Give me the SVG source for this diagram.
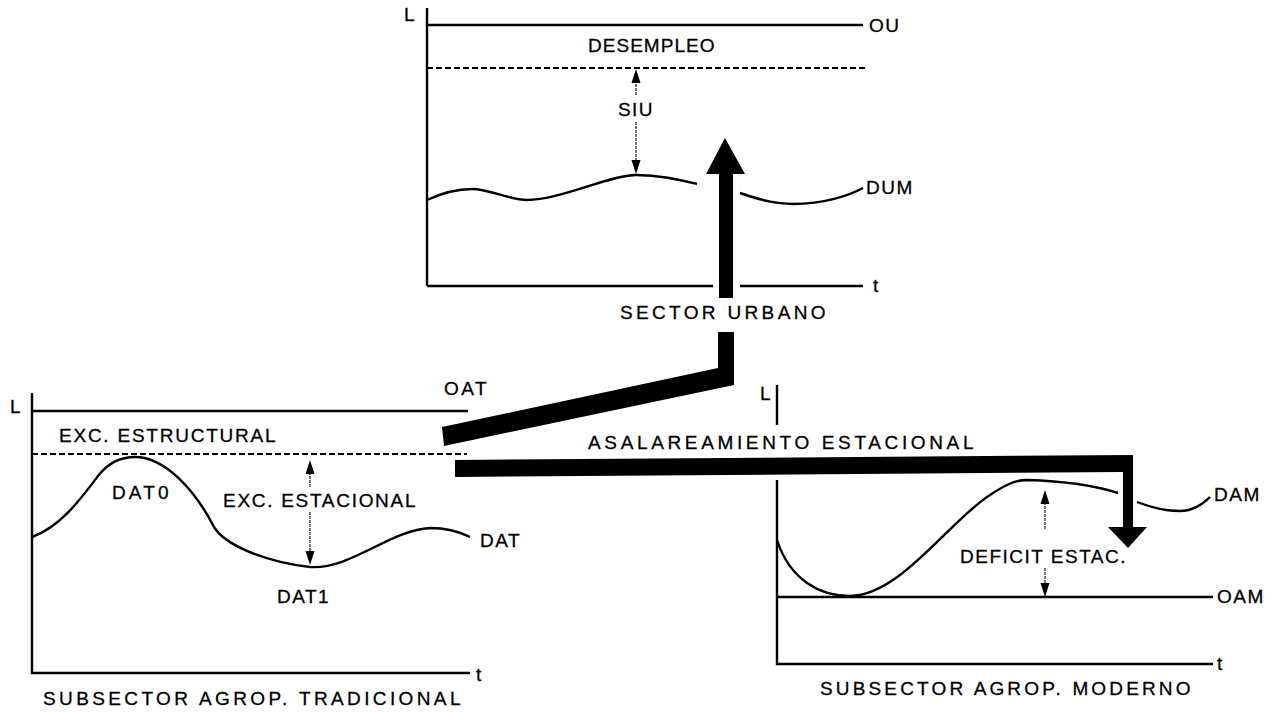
<svg xmlns="http://www.w3.org/2000/svg" width="1271" height="712" viewBox="0 0 1271 712">
<defs>
<style>
.ax{fill:none;stroke:#000;stroke-width:2.4}
.cv{fill:none;stroke:#000;stroke-width:2.4}
.ds{fill:none;stroke:#000;stroke-width:1.9;stroke-dasharray:6 3}
.th{fill:none;stroke:#000;stroke-width:1.1;stroke-dasharray:3 1}
.tx{font-family:"Liberation Sans",Arial,sans-serif;font-size:19px;fill:#000;letter-spacing:1.5px;stroke:#000;stroke-width:0.3}
.big{fill:#000;stroke:none}
.hd{fill:#000}
</style>
</defs>
<rect width="1271" height="712" fill="#fff"/>

<g id="sector-urbano">
<text class="tx" x="404" y="21" letter-spacing="0">L</text>
<path class="ax" d="M427,8 V286 M427,286 H713 M740,286 H863"/>
<path class="ax" d="M427,25 H863"/>
<text class="tx" x="869" y="32">OU</text>
<text class="tx" x="588" y="52" textLength="128" lengthAdjust="spacing">DESEMPLEO</text>
<path class="ds" d="M427,68 H865"/>
<path class="cv" d="M427,200 C440,194 455,189 472,189 C490,189 510,200 527,200 C560,200 610,175 636,175 C660,175 680,180 697,184 M740,193 C760,200 775,204 793,204 C825,204 850,195 863,188"/>
<text class="tx" x="866" y="194">DUM</text>
<text class="tx" x="873" y="292" letter-spacing="0">t</text>
<text class="tx" x="620" y="319" textLength="207" lengthAdjust="spacing">SECTOR URBANO</text>
</g>

<g id="siu">
<path class="th" d="M636,80 V96 M636,122 V162"/>
<polygon class="hd" points="636,69 640.5,83 631.5,83"/>
<polygon class="hd" points="636,174 640.5,160 631.5,160"/>
<text class="tx" x="636" y="116" text-anchor="middle" letter-spacing="0.5">SIU</text>
</g>

<g id="subsector-tradicional">
<text class="tx" x="10" y="413" letter-spacing="0">L</text>
<path class="ax" d="M32,393 V673 H470"/>
<path class="ax" d="M32,411 H468"/>
<text class="tx" x="444" y="395" textLength="44" lengthAdjust="spacing">OAT</text>
<text class="tx" x="59" y="442" textLength="218" lengthAdjust="spacing">EXC. ESTRUCTURAL</text>
<path class="ds" d="M32,454 H467"/>
<path class="cv" d="M32,537 C60,527 80,500 98,476 C108,463 120,457 135,457 C165,457 195,490 214,527 C225,545 265,562 310,567 C350,570 390,530 430,528 C450,528 462,533 470,537"/>
<text class="tx" x="112" y="499" textLength="58" lengthAdjust="spacing">DAT0</text>
<text class="tx" x="223" y="507" textLength="194" lengthAdjust="spacing">EXC. ESTACIONAL</text>
<text class="tx" x="277" y="603" textLength="53" lengthAdjust="spacing">DAT1</text>
<text class="tx" x="480" y="547">DAT</text>
<text class="tx" x="476" y="681" letter-spacing="0">t</text>
<text class="tx" x="43" y="705" textLength="419" lengthAdjust="spacing">SUBSECTOR AGROP. TRADICIONAL</text>
</g>

<g id="exc-estacional-arrow">
<path class="th" d="M310,472 V487 M310,512 V553"/>
<polygon class="hd" points="310,460 314.5,474 305.5,474"/>
<polygon class="hd" points="310,565 314.5,551 305.5,551"/>
</g>

<g id="subsector-moderno">
<text class="tx" x="760" y="400" letter-spacing="0">L</text>
<path class="ax" d="M777,385 V425 M777,480 V664 H1213"/>
<path class="ax" d="M777,597 H1213"/>
<text class="tx" x="1217" y="603">OAM</text>
<path class="cv" d="M777,540 C790,580 820,596 850,596 C900,596 950,520 990,495 C1005,485 1015,480 1027,480 C1060,481 1090,484 1118,493 M1137,502 C1150,507 1165,511 1180,511 C1195,511 1205,502 1210,497"/>
<text class="tx" x="1214" y="501">DAM</text>
<text class="tx" x="960" y="563" textLength="167" lengthAdjust="spacing">DEFICIT ESTAC.</text>
<text class="tx" x="1217" y="670" letter-spacing="0">t</text>
<text class="tx" x="820" y="695" textLength="372" lengthAdjust="spacing">SUBSECTOR AGROP. MODERNO</text>
</g>

<g id="deficit-arrow">
<path class="th" d="M1045,502 V530 M1045,568 V585"/>
<polygon class="hd" points="1045,490 1049.5,504 1040.5,504"/>
<polygon class="hd" points="1045,597 1049.5,583 1040.5,583"/>
</g>

<g id="connectors">
<polygon class="big" points="719,298 719,174 706,174 725,138 745,174 733,174 733,298"/>
<polygon class="big" points="718,332 734,332 734,385 444,446 442,427 718,368"/>
<polygon class="big" points="455,460 1133,455 1133,527 1147,527 1128,548 1108,527 1123,527 1123,472 455,477"/>
<text class="tx" x="588" y="449" textLength="387" lengthAdjust="spacing">ASALAREAMIENTO ESTACIONAL</text>
</g>
</svg>
